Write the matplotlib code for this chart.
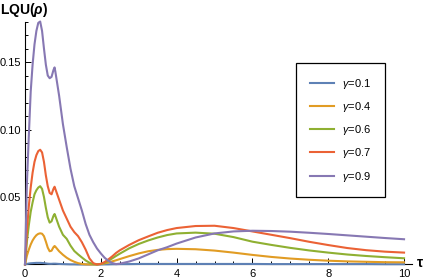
import numpy as np
import matplotlib
matplotlib.use("Agg")
import matplotlib.pyplot as plt

plt.rcParams['font.family'] = ['Liberation Sans', 'DejaVu Sans']
plt.rcParams['mathtext.fontset'] = 'custom'
plt.rcParams['mathtext.rm'] = 'Liberation Sans'
plt.rcParams['mathtext.it'] = 'Liberation Sans:italic'
plt.rcParams['mathtext.bf'] = 'Liberation Sans:bold:italic'

tau = [0, 0.05, 0.1, 0.15, 0.2, 0.25, 0.3, 0.35, 0.4, 0.45, 0.5, 0.55, 0.6, 0.65,
       0.7, 0.75, 0.78, 0.8, 0.85, 0.9, 1.0, 1.1, 1.2, 1.3, 1.4, 1.5, 1.6, 1.7,
       1.8, 1.9, 2.0, 2.1, 2.2, 2.3, 2.4, 2.5, 2.75, 3.0, 3.25, 3.5, 3.75, 4.0,
       4.5, 5.0, 5.5, 6.0, 6.5, 7.0, 7.5, 8.0, 8.5, 9.0, 9.5, 10.0]

lqu_g01 = [0, 0.0004, 0.0007, 0.0009, 0.001, 0.0011, 0.0012, 0.0012, 0.0012, 0.0011,
           0.001, 0.0008, 0.0006, 0.0005, 0.0005, 0.0006, 0.0006, 0.0006, 0.0005, 0.0004,
           0.0003, 0.0002, 0.0001, 0.0001, 0, 0, 0, 0,
           0, 0, 0, 0.0001, 0.0001, 0.0002, 0.0002, 0.0003, 0.0003, 0.0004, 0.0004, 0.0004, 0.0004, 0.0004,
           0.0004, 0.0004, 0.0004, 0.0004, 0.0003, 0.0003, 0.0003, 0.0003, 0.0003, 0.0003, 0.0002, 0.0002]

lqu_g04 = [0, 0.0065, 0.011, 0.0148, 0.0178, 0.020, 0.0217, 0.0227, 0.0231, 0.0228,
           0.021, 0.017, 0.0125, 0.0098, 0.0102, 0.0128, 0.0137, 0.0132, 0.0115, 0.0098,
           0.0072, 0.005, 0.0033, 0.002, 0.001, 0.0004, 0.0001, 0,
           0, 0.0001, 0.0003, 0.0008, 0.0015, 0.0023, 0.0031, 0.004, 0.0062, 0.0082, 0.0098, 0.0108, 0.0114, 0.0116,
           0.0113, 0.0103, 0.0088, 0.0071, 0.0056, 0.0044, 0.0035, 0.0028, 0.0023, 0.002, 0.0017, 0.0016]

lqu_g06 = [0, 0.017, 0.029, 0.039, 0.046, 0.052, 0.055, 0.057, 0.058, 0.056,
           0.050, 0.042, 0.035, 0.031, 0.032, 0.036, 0.0374, 0.036, 0.032, 0.028,
           0.022, 0.019, 0.014, 0.010, 0.0075, 0.0052, 0.003, 0.0013,
           0.0003, 0, 0.0004, 0.0013, 0.0028, 0.0045, 0.0063, 0.008, 0.012, 0.0152, 0.0178, 0.020, 0.0218, 0.023,
           0.0236, 0.0228, 0.0203, 0.0169, 0.0145, 0.0123, 0.0104, 0.0088, 0.0074, 0.0063, 0.0054, 0.0046]

lqu_g07 = [0, 0.025, 0.043, 0.057, 0.068, 0.076, 0.081, 0.084, 0.085, 0.083,
           0.076, 0.066, 0.058, 0.053, 0.052, 0.056, 0.0576, 0.056, 0.052, 0.048,
           0.040, 0.034, 0.028, 0.024, 0.021, 0.0165, 0.011, 0.0045,
           0.001, 0, 0.0005, 0.0018, 0.0038, 0.006, 0.0085, 0.0105, 0.0145, 0.018, 0.0208, 0.0235, 0.0255, 0.027,
           0.0285, 0.0287, 0.027, 0.0245, 0.022, 0.0195, 0.0168, 0.0144, 0.0122, 0.0106, 0.0095, 0.0088]

lqu_g09 = [0, 0.06, 0.095, 0.128, 0.148, 0.163, 0.173, 0.179, 0.180, 0.173,
           0.160, 0.148, 0.140, 0.138, 0.139, 0.144, 0.146, 0.143, 0.134, 0.125,
           0.104, 0.087, 0.071, 0.058, 0.049, 0.040, 0.030, 0.022,
           0.0165, 0.0118, 0.0082, 0.005, 0.0027, 0.0011, 0.0003, 0.0006, 0.0022, 0.0045, 0.0075, 0.0105, 0.0128, 0.0155,
           0.020, 0.023, 0.0245, 0.025, 0.0248, 0.0243, 0.0235, 0.0226, 0.0216, 0.0206, 0.0196, 0.0187]

labels = [r"$\gamma$=0.1", r"$\gamma$=0.4", r"$\gamma$=0.6", r"$\gamma$=0.7", r"$\gamma$=0.9"]
colors = ["#5E81B5", "#E19C24", "#8FB032", "#EB6235", "#8778B3"]

fig = plt.figure(figsize=(4.29, 2.78), dpi=100)
ax = fig.add_axes([0.0583, 0.0486, 0.9012, 0.874])

for ys, lab, col in zip([lqu_g01, lqu_g04, lqu_g06, lqu_g07, lqu_g09], labels, colors):
    ax.plot(tau, ys, color=col, lw=1.5, label=lab, zorder=3, clip_on=False)

ax.set_xlim(0, 10.2)
ax.set_ylim(0, 0.18)

# mathematica style axes: only left/bottom, ticks pointing inward
for side in ['top', 'right']:
    ax.spines[side].set_visible(False)
for side in ['left', 'bottom']:
    ax.spines[side].set_linewidth(0.8)
    ax.spines[side].set_zorder(1)

ax.set_xticks([0, 2, 4, 6, 8, 10])
ax.set_xticklabels(["0", "2", "4", "6", "8", "10"])
ax.set_xticks(np.arange(0, 10.01, 0.5), minor=True)
ax.set_yticks([0.05, 0.10, 0.15])
ax.set_yticklabels(["0.05", "0.10", "0.15"])
ax.set_yticks(np.arange(0.01, 0.1801, 0.01), minor=True)
ax.tick_params(which='both', direction='in', labelsize=8, width=0.7, pad=3)
ax.tick_params(which='major', length=4)
ax.tick_params(which='minor', length=2.2)

fig.text(0.0, 0.964, r"LQU($\mathbf{\rho}$)", fontsize=10, fontweight='bold', ha='left', va='center')
fig.text(0.979, 0.054, "τ", fontsize=10, fontweight='bold', ha='center', va='center')

leg = ax.legend(loc='upper left', bbox_to_anchor=(0.690, 0.773), bbox_transform=fig.transFigure,
                fontsize=8, frameon=True, fancybox=False, framealpha=1, edgecolor='black',
                handlelength=2.2, handletextpad=0.7, labelspacing=0.83, borderpad=1.22,
                borderaxespad=0)
leg.get_frame().set_linewidth(0.9)

fig.savefig("out.png", dpi=100)
